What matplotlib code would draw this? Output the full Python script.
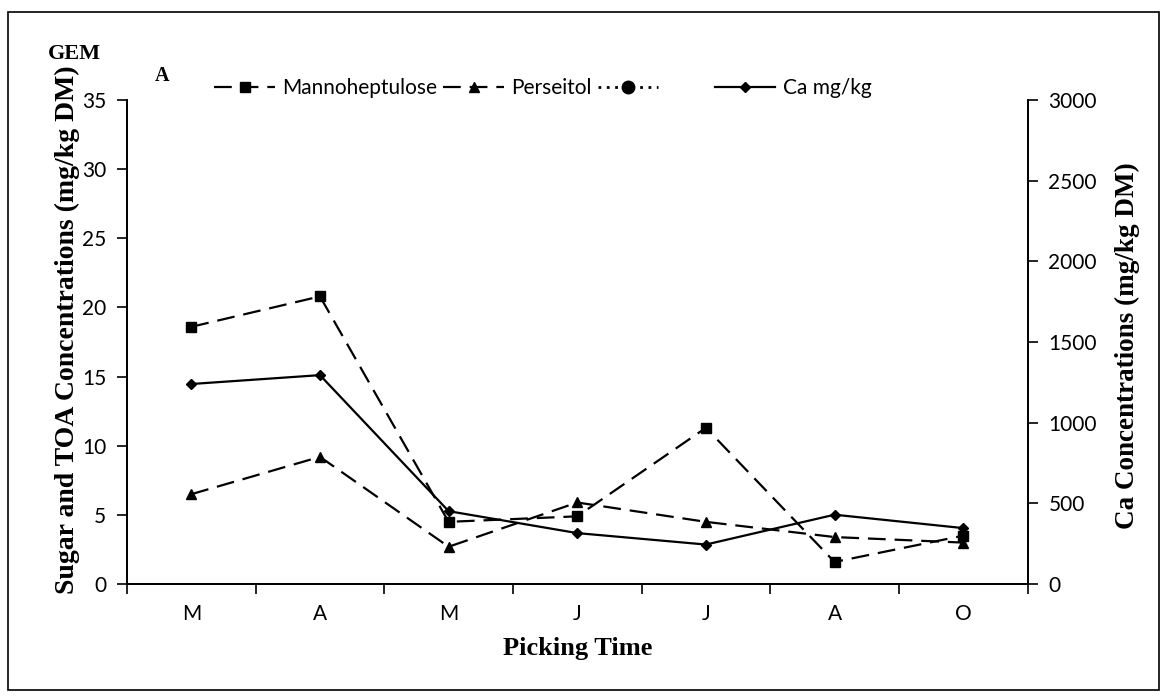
import numpy as np
import matplotlib
matplotlib.use("Agg")
import matplotlib.pyplot as plt
from matplotlib.patches import Rectangle

# picking months
months = ["M", "A", "M", "J", "J", "A", "O"]
# sugars on the left axis (mg/kg DM)
manno = [18.6, 20.8, 4.5, 4.9, 11.3, 1.6, 3.5]
perse = [6.5, 9.2, 2.7, 5.9, 4.5, 3.4, 3.0]
# third series is empty in the original
blank = [np.nan] * 7
# Ca on the right axis (mg/kg DM)
ca = [1240, 1295, 452, 316, 245, 430, 347]

plt.rcParams['font.family'] = ['Lato', 'DejaVu Sans']
serif = 'Liberation Serif'

fig = plt.figure(figsize=(11.65, 6.97), dpi=100)
ax = fig.add_axes([0.109, 0.162, 0.773, 0.6945])
ax2 = ax.twinx()

x = np.arange(len(months))
l1, = ax.plot(x, manno, color='black', lw=1.6, ls=(0, (8, 4)), marker='s', ms=7)
l2, = ax.plot(x, perse, color='black', lw=1.6, ls=(0, (8, 4)), marker='^', ms=7)
l3, = ax.plot(x, blank, color='black', lw=2, ls=(0, (1, 2)), marker='o', ms=9)
l4, = ax2.plot(x, ca, color='black', lw=1.6, ls='-', marker='D', ms=5)

ax.set_xlim(-0.5, 6.5)
ax.set_ylim(0, 35)
ax.set_yticks(range(0, 36, 5))
ax2.set_ylim(0, 3000)
ax2.set_yticks(range(0, 3001, 500))

ax.set_xticks(x)
ax.set_xticklabels(months)
ax.set_xticks(np.arange(-0.5, 7, 1), minor=True)
ax.tick_params(axis='x', which='major', length=0, pad=14, labelsize=15)
ax.tick_params(axis='x', which='minor', length=7, width=1.2, direction='out')
ax.tick_params(axis='y', length=7, width=1.2, labelsize=15, pad=8)
ax2.tick_params(axis='y', length=7, width=1.2, labelsize=15, pad=8)

for a in (ax, ax2):
    a.spines['top'].set_visible(False)
    for s in ('left', 'right', 'bottom'):
        a.spines[s].set_linewidth(1.3)

ax.set_ylabel("Sugar and TOA Concentrations (mg/kg DM)", family=serif,
              fontweight='bold', fontsize=20)
ax.yaxis.set_label_coords(-0.052, 0.525)
ax2.set_ylabel("Ca Concentrations (mg/kg DM)", family=serif,
               fontweight='bold', fontsize=19.5)
ax2.yaxis.set_label_coords(1.097, 0.493)
ax.set_xlabel("Picking Time", family=serif, fontweight='bold', fontsize=19)
ax.xaxis.set_label_coords(0.5, -0.11)

fig.legend([l1, l2, l3, l4], ["Mannoheptulose", "Perseitol", "        ", "Ca mg/kg"],
           loc='center', bbox_to_anchor=(0.466, 0.874), ncol=4, frameon=False,
           fontsize=15, handlelength=2.9, handletextpad=0.35, columnspacing=0.3)

fig.text(0.041, 0.916, "GEM", family=serif, fontweight='bold', fontsize=16)
fig.text(0.133, 0.884, "A", family=serif, fontweight='bold', fontsize=14.5)

# outer frame
fig.patches.append(Rectangle((0.007, 0.01), 0.988, 0.973, transform=fig.transFigure,
                             fill=False, edgecolor='black', lw=1.2))

fig.savefig("out.png", dpi=100)
